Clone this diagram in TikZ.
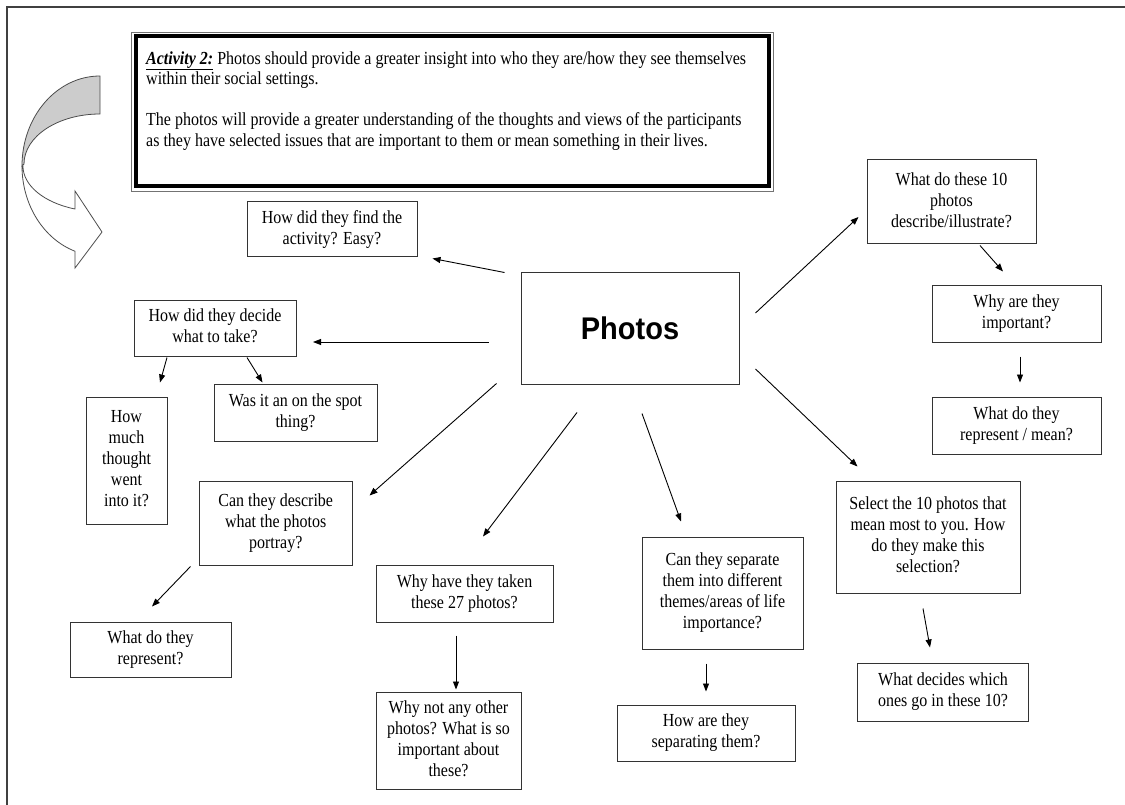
\documentclass[tikz,border=0pt]{standalone}
\usepackage{graphicx}
\usepackage{fontspec}
\setmainfont{Liberation Serif}
\newfontfamily\headfont{Liberation Sans}
\usetikzlibrary{arrows.meta,calc}

% box text: centred lines, set a little taller than the font's natural shape
\newcommand\tall[1]{\scalebox{1}[1.15]{\begin{tabular}{@{}c@{}}#1\end{tabular}}}

\begin{document}
\begin{tikzpicture}[x=1pt,y=-1pt,
  qbox/.style={draw=black!80, line width=1pt, inner sep=0pt,
    fill=white, font=\fontsize{16}{18.3}\selectfont},
  arr/.style={draw=black, line width=0.9pt, -{Triangle[length=8pt,width=6pt]}},
  blockedge/.style={draw=black!70, line width=0.8pt},
]
\useasboundingbox (0,0) rectangle (1125,805);
\fill[white] (0,0) rectangle (1125,805);

% page frame (left and top edges)
\draw[black!75, line width=1.5pt] (7,805) -- (7,7) -- (1125,7);

% curved block arrow: shaded back face, then the white front with its head
\filldraw[blockedge, fill=black!20]
  (100,76) arc[start angle=270, end angle=180, x radius=78, y radius=90]
  -- (24,164) arc[start angle=180, end angle=270, x radius=76, y radius=50]
  -- cycle;
\filldraw[blockedge, fill=white]
  (22,166) arc[start angle=180, end angle=108.7, x radius=78, y radius=90]
  -- (75,268) -- (102,232) -- (75,191) -- (75,209)
  arc[start angle=108.9, end angle=180, x radius=77, y radius=45.5]
  -- cycle;

% activity description with its heavy frame
\draw[black!55, line width=0.8pt] (131,32) rectangle (773,191);
\draw[black, line width=4pt] (135.5,36.5) rectangle (768.5,186.5);
\node[anchor=north west, inner sep=0pt,
      font=\fontsize{16}{17.8}\selectfont] (intro) at (146,49.5)
  {\scalebox{1}[1.15]{\begin{tabular}{@{}l@{}}
   \underline{\textbf{\textit{Activity 2:}}} Photos should provide a greater insight into who they are/how they see themselves\\
   within their social settings.\\[17.8pt]
   The photos will provide a greater understanding of the thoughts and views of the participants\\
   as they have selected issues that are important to them or mean something in their lives.
   \end{tabular}}};

% central topic
\node[draw=black!80, line width=1pt, fill=white, minimum width=218pt, minimum height=111pt,
      inner sep=0pt, font=\headfont\bfseries\fontsize{29}{34}\selectfont]
  (photos) at (630,328.5) {\scalebox{1}[1.08]{Photos}};

% question boxes
\node[qbox, minimum width=170pt, minimum height=55pt] (find) at (332,229.5)
  {\tall{How did they find the\\activity? Easy?}};
\node[qbox, minimum width=162pt, minimum height=56pt] (decide) at (215,328)
  {\tall{How did they decide\\what to take?}};
\node[qbox, minimum width=81pt, minimum height=127pt] (much) at (126.5,460.5)
  {\tall{How\\much\\thought\\went\\into it?}};
\node[qbox, minimum width=163pt, minimum height=57pt] (spot) at (295.5,412.5)
  {\tall{Was it an on the spot\\thing?}};
\node[qbox, minimum width=153.5pt, minimum height=84pt] (describe) at (275.75,523)
  {\tall{Can they describe\\what the photos\\portray?}};
\node[qbox, minimum width=161pt, minimum height=55pt] (repr) at (150.5,649.5)
  {\tall{What do they\\represent?}};
\node[qbox, minimum width=177pt, minimum height=57pt] (taken) at (464.5,593.5)
  {\tall{Why have they taken\\these 27 photos?}};
\node[qbox, minimum width=145pt, minimum height=97pt] (whynot) at (448.5,740.5)
  {\tall{Why not any other\\photos? What is so\\important about\\these?}};
\node[qbox, minimum width=161pt, minimum height=112pt] (separate) at (722.5,593)
  {\tall{Can they separate\\them into different\\themes/areas of life\\importance?}};
\node[qbox, minimum width=178pt, minimum height=56pt] (howsep) at (706,733)
  {\tall{How are they\\separating them?}};
\node[qbox, minimum width=184pt, minimum height=112pt] (select) at (928,537)
  {\tall{Select the 10 photos that\\mean most to you. How\\do they make this\\selection?}};
\node[qbox, minimum width=170.5pt, minimum height=58pt] (decides) at (943,692)
  {\tall{What decides which\\ones go in these 10?}};
\node[qbox, minimum width=169pt, minimum height=84pt] (tenphotos) at (951.5,202)
  {\tall{What do these 10\\photos\\describe/illustrate?}};
\node[qbox, minimum width=169pt, minimum height=56pt] (important) at (1016.5,314)
  {\tall{Why are they\\important?}};
\node[qbox, minimum width=169pt, minimum height=57pt] (mean) at (1016.5,425.5)
  {\tall{What do they\\represent / mean?}};

% connectors
\draw[arr] ($(photos.north west)+(-16,0)$) -- ($(find.south east)+(15,1)$);
\draw[arr] ($(photos.west)+(-32,13.5)$) -- ($(decide.east)+(16.5,14)$);
\draw[arr] ($(photos.east)+(16,-15.5)$) -- ($(tenphotos.west)+(-8,15)$);
\draw[arr] ($(tenphotos.south)+(28.5,1)$) -- ($(important.north)+(-13.5,-14)$);
\draw[arr] ($(important.south)+(3.5,14)$) -- ($(mean.north)+(3.5,-14)$);
\draw[arr] ($(photos.east)+(16,40.5)$) -- ($(select.north west)+(22,-14)$);
\draw[arr] ($(select.south)+(-5,15)$) -- ($(decides.north)+(-13,-15)$);
\draw[arr] ($(photos.south)+(12,29)$) -- ($(separate.north)+(-41.5,-15)$);
\draw[arr] ($(separate.south)+(-16.5,14)$) -- ($(howsep.north)+(0,-13)$);
\draw[arr] ($(photos.south)+(-53,28)$) -- ($(taken.north)+(18.5,-28)$);
\draw[arr] ($(taken.south)+(-8.5,13)$) -- ($(whynot.north)+(7.5,-2)$);
\draw[arr] ($(photos.south west)+(-24,-1)$) -- ($(describe.north east)+(16.5,15)$);
\draw[arr] ($(describe.south west)+(-8,1)$) -- ($(repr.north)+(1.5,-15)$);
\draw[arr] ($(decide.south)+(-48,1)$) -- ($(much.north)+(33.5,-14)$);
\draw[arr] ($(decide.south)+(32,1)$) -- ($(spot.north)+(-33,-1)$);
\end{tikzpicture}
\end{document}
